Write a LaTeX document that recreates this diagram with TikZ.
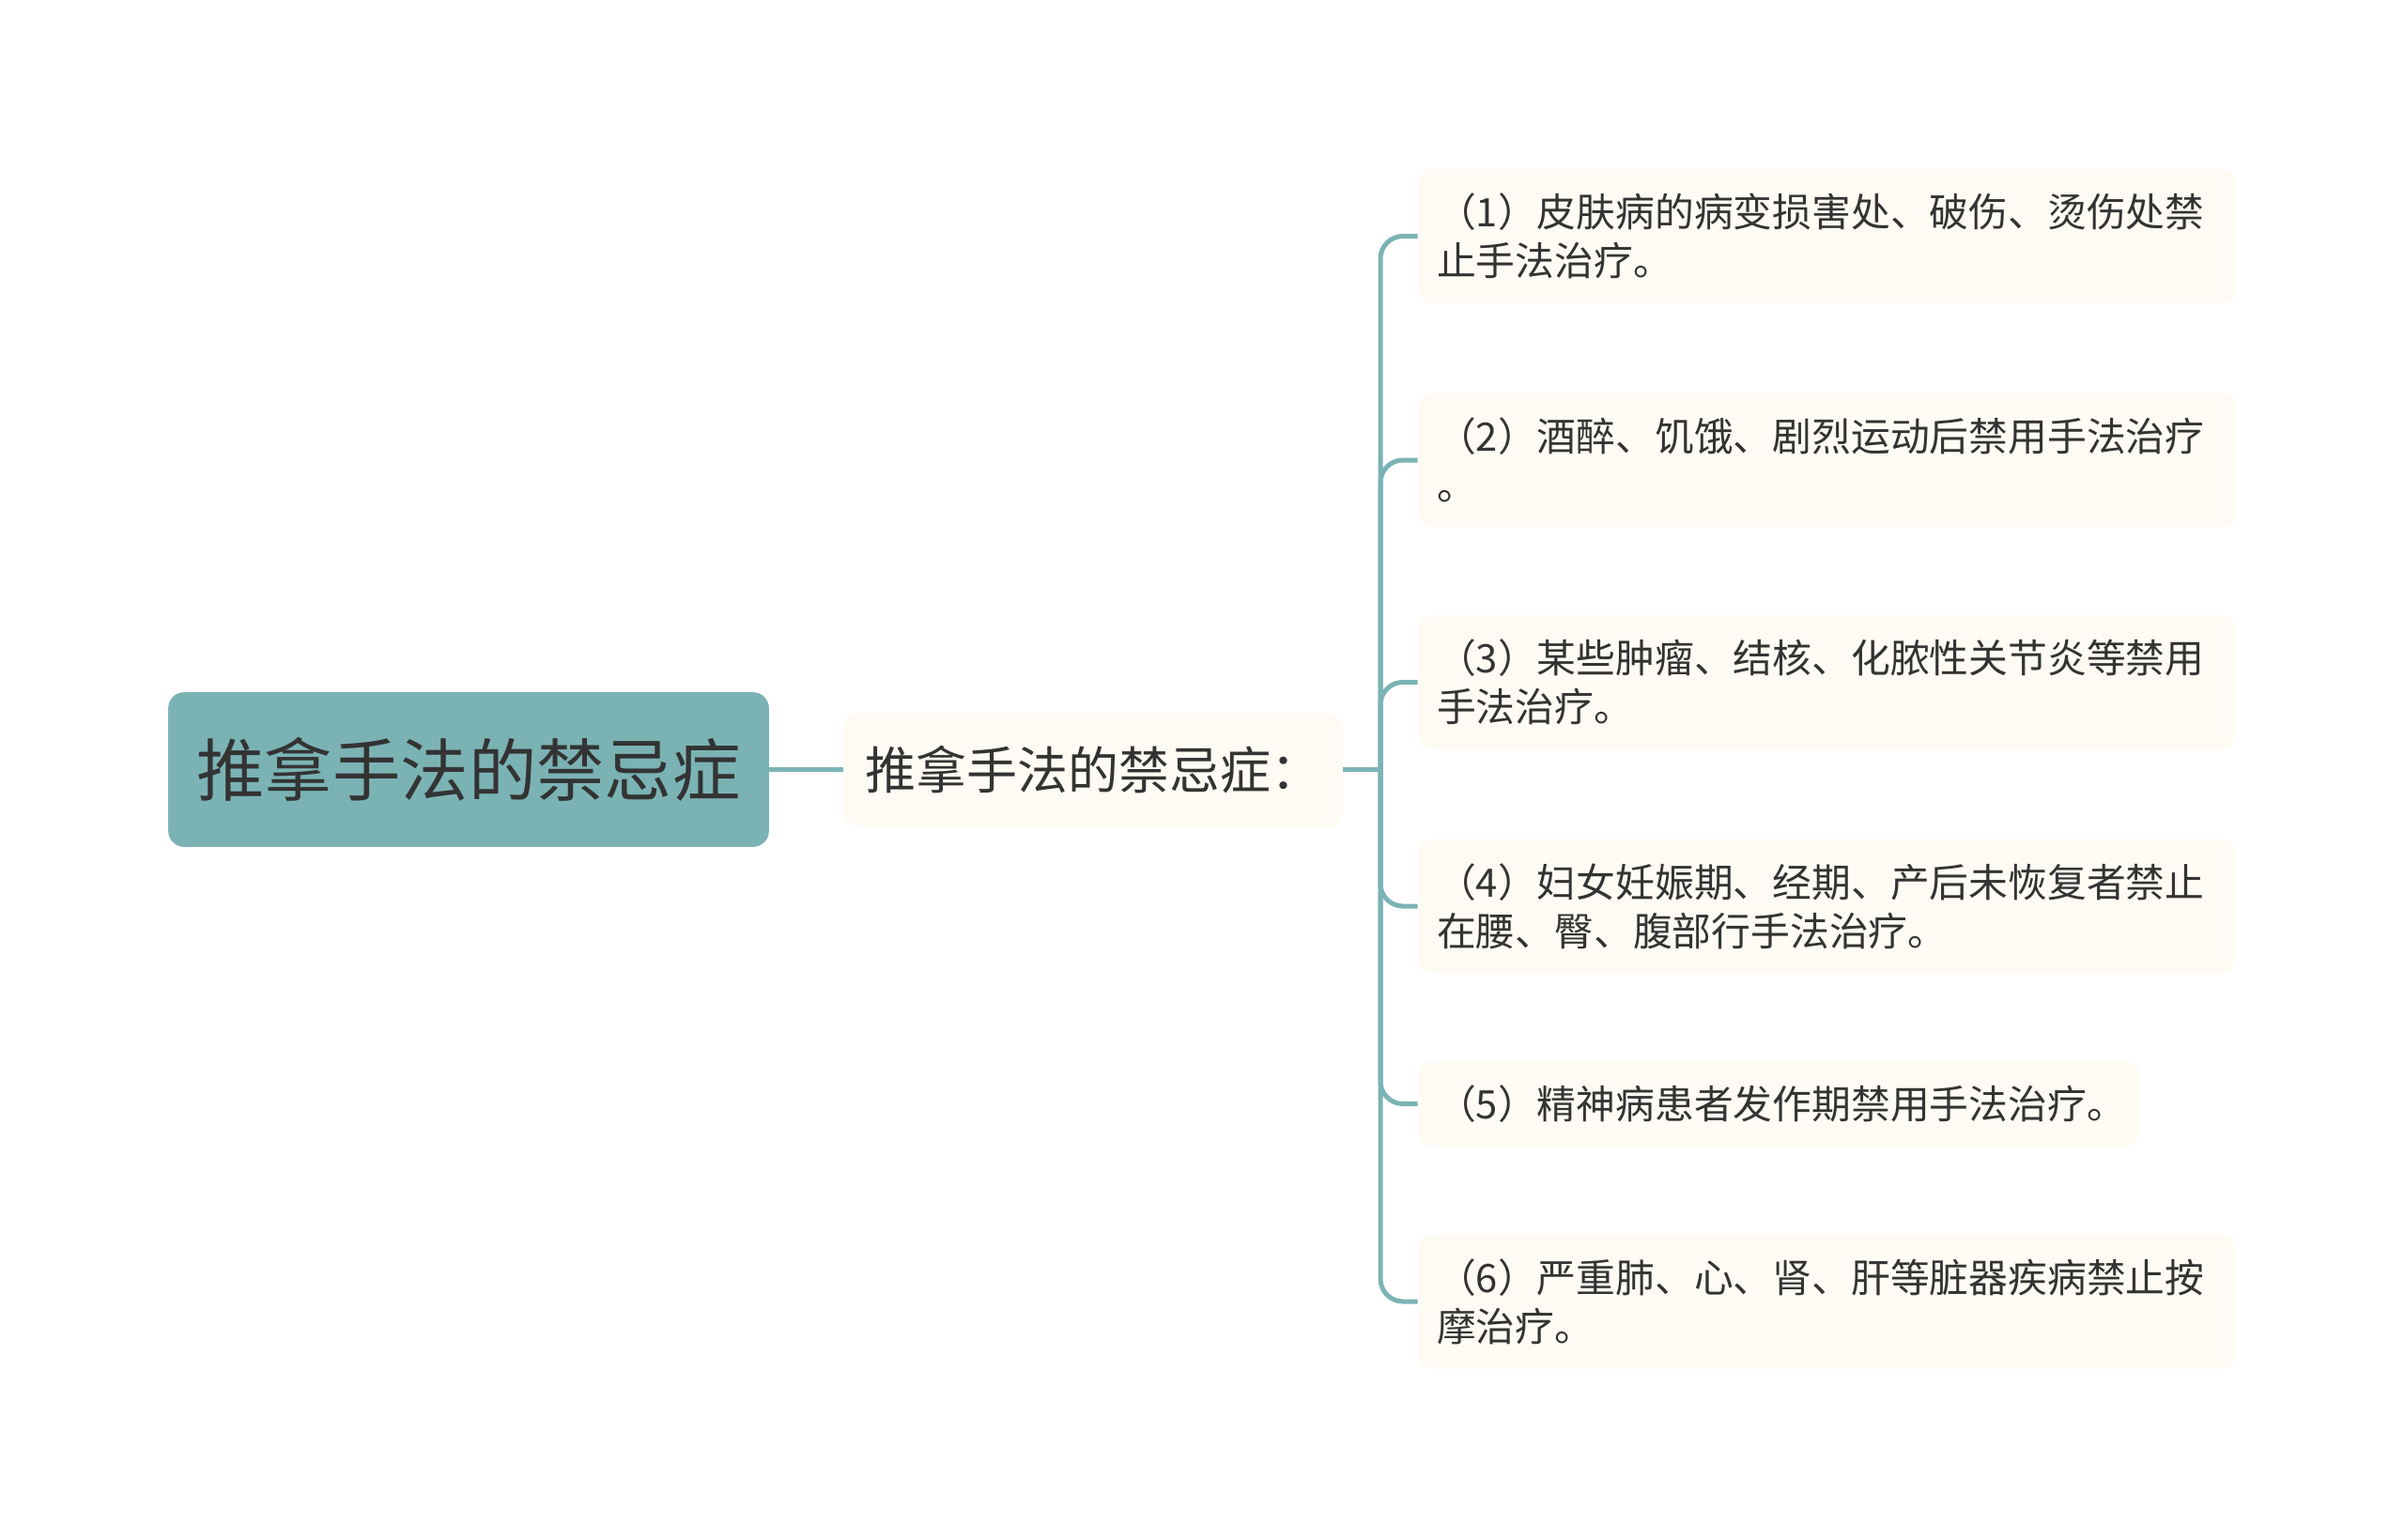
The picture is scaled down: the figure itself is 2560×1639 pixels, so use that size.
\documentclass[tikz,border=0pt]{standalone}
\usepackage{fontspec}
\newfontfamily\cjk{Noto Sans CJK SC}
\definecolor{teal1}{RGB}{123,179,181}
\definecolor{cream}{RGB}{253,251,243}
\definecolor{ink}{RGB}{51,51,51}
\begin{document}
\begin{tikzpicture}[x=0.5pt,y=-0.5pt,
  rootbox/.style={fill=teal1,draw=teal1,line width=0.8pt,rounded corners=8pt,minimum width=319pt,minimum height=81.5pt,inner sep=0pt,text=ink,font=\cjk\fontsize{36.2}{44}\selectfont},
  midbox/.style={fill=cream,rounded corners=8pt,minimum width=266pt,minimum height=60.5pt,inner sep=0pt,text=ink,font=\cjk\fontsize{27}{33}\selectfont},
  leafbox/.style={fill=cream,rounded corners=8pt,minimum width=435.5pt,inner xsep=10pt,inner ysep=0pt,text=ink,align=left,text width=415.5pt,font=\cjk\fontsize{20.9}{26}\selectfont},
  conn/.style={draw=teal1,line width=2.5pt,rounded corners=12pt}]
\useasboundingbox (0,0) rectangle (2560,1639);
\node[rootbox] (root) at (499,819.5) {推拿手法的禁忌症};
\node[midbox] (mid) at (1164,819.5) {推拿手法的禁忌症：};
\node[leafbox,minimum height=71.5pt] (l1) at (1945.5,251.5) {（1）皮肤病的病变损害处、破伤、烫伤处禁\\止手法治疗。};
\node[leafbox,minimum height=71.5pt] (l2) at (1945.5,490) {（2）酒醉、饥饿、剧烈运动后禁用手法治疗\\。};
\node[leafbox,minimum height=71.5pt] (l3) at (1945.5,726.5) {（3）某些肿瘤、结核、化脓性关节炎等禁用\\手法治疗。};
\node[leafbox,minimum height=71.5pt] (l4) at (1945.5,965) {（4）妇女妊娠期、经期、产后未恢复者禁止\\在腰、臀、腹部行手法治疗。};
\node[leafbox,minimum height=45.5pt,minimum width=384.5pt,text width=364.5pt] (l5) at (1894.5,1175.5) {（5）精神病患者发作期禁用手法治疗。};
\node[leafbox,minimum height=71.5pt] (l6) at (1945.5,1386) {（6）严重肺、心、肾、肝等脏器疾病禁止按\\摩治疗。};
\coordinate (trunk) at (1470,819.5);
\draw[conn] (root.east) -- (mid.west);
\draw[conn] (mid.east) -- (trunk);
\foreach \n in {l1,l2,l3,l4,l5,l6}{
  \draw[conn] (trunk) |- (\n.west);
}
\end{tikzpicture}
\end{document}
